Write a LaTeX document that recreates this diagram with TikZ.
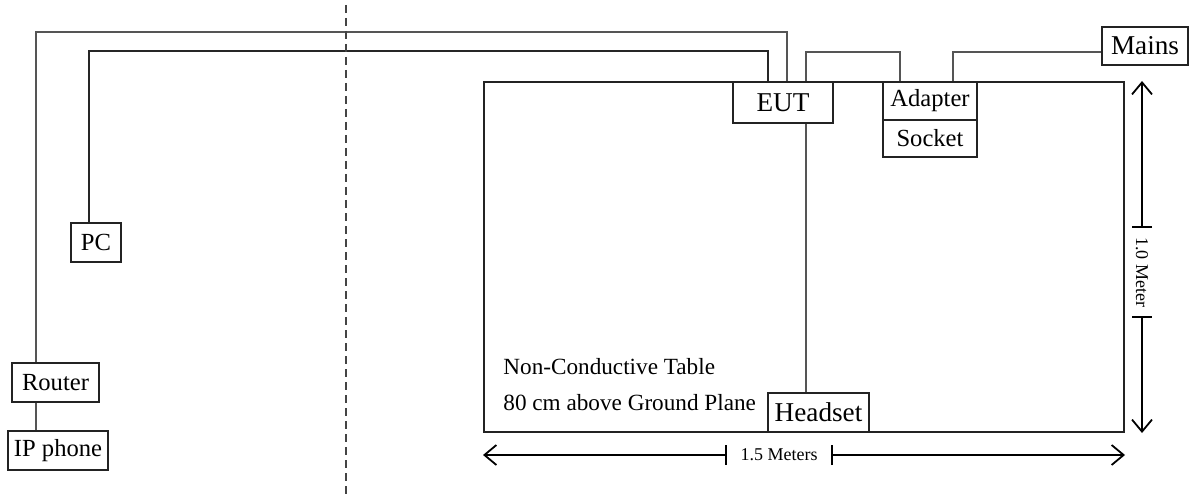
\documentclass[tikz,border=0pt]{standalone}
\usepackage{fontspec}
\setmainfont{Liberation Serif}
\usetikzlibrary{arrows.meta}
\definecolor{cablegray}{RGB}{85,85,85}
\definecolor{boxline}{RGB}{35,35,35}
\newcommand\bigfont{\fontsize{13.6}{16}\selectfont}
\newcommand\midfont{\fontsize{12.3}{15}\selectfont}
\newcommand\tabfont{\fontsize{11.6}{14}\selectfont}
\newcommand\dimfont{\fontsize{9}{11}\selectfont}
\newcommand\unitbox[6]{\node[unit, minimum width=#4pt, minimum height=#5pt] (#1) at (#2,#3) {#6};}
\tikzset{
  unit/.style={draw=boxline, line width=1pt, fill=white, inner sep=0pt},
  cable/.style={draw=cablegray, line width=0.65pt},
  dimline/.style={line width=0.7pt, {Bar[width=10pt]}-{Straight Barb[length=6pt,width=10pt,line width=0.9pt]}}
}

\begin{document}
\begin{tikzpicture}[x=0.5pt,y=-0.5pt]
\useasboundingbox (0,0) rectangle (1202,497);

% table
\node[unit, fill=none, minimum width=320pt, minimum height=175pt] (table) at (804,257) {};
\node[anchor=base west, inner sep=0pt] (tabtxt1) at (503,374) {\tabfont Non-Conductive Table};
\node[anchor=base west, inner sep=0pt] (tabtxt2) at (503,410) {\tabfont 80 cm above Ground Plane};

% units
\unitbox{eut}{783}{102.5}{50}{20.5}{\bigfont EUT}
\unitbox{adapter}{930}{101}{47}{19}{\midfont Adapter}
\unitbox{socket}{930}{138.5}{47}{18.5}{\midfont Socket}
\unitbox{mains}{1145}{46}{43}{19}{\bigfont Mains}
\unitbox{headset}{818.5}{412.5}{50.5}{19.5}{\bigfont Headset}
\unitbox{pc}{96}{242.5}{25}{19.5}{\midfont PC}
\unitbox{router}{55.5}{382.5}{43.5}{19.5}{\midfont Router}
\unitbox{phone}{58}{450.5}{50}{19.5}{\midfont IP phone}

% cable runs
\coordinate (xa) at (36,0);
\coordinate (ya) at (0,32);
\coordinate (xb) at (787,0);
\coordinate (xpc) at (89,0);
\coordinate (ypc) at (0,51);
\coordinate (xc) at (768,0);
\coordinate (xd) at (806,0);
\coordinate (yd) at (0,52);
\coordinate (xe) at (900,0);
\coordinate (xf) at (953,0);

\draw[cable] (router.south -| xa) -- (phone.north -| xa);
\draw[cable] (router.north -| xa) -- (xa |- ya) -| (eut.north -| xb);
\draw[cable, draw=black!85] (pc.north -| xpc) -- (xpc |- ypc) -| (eut.north -| xc);
\draw[cable] (eut.north -| xd) -- (xd |- yd) -| (adapter.north -| xe);
\draw[cable] (adapter.north -| xf) |- (mains.west |- yd);
\draw[cable] (eut.south -| xd) -- (headset.north -| xd);

% divider
\coordinate (dtop) at (346,5);
\coordinate (dbot) at (346,497);
\draw[boxline!85, line width=1pt, dash pattern=on 4pt off 2.5pt] (dtop) -- (dbot);

% dimensions
\node[inner sep=0pt, minimum width=52pt] (wlab) at (779,455) {\dimfont 1.5 Meters};
\draw[dimline] (wlab.west) -- (wlab -| table.west);
\draw[dimline] (wlab.east) -- (wlab -| table.east);
\node[inner sep=0pt, minimum width=44pt, rotate=-90] (hlab) at (1142,272) {\dimfont 1.0 Meter};
\draw[dimline] (hlab.west) -- (hlab.west |- table.north);
\draw[dimline] (hlab.east) -- (hlab.east |- table.south);
\end{tikzpicture}
\end{document}
